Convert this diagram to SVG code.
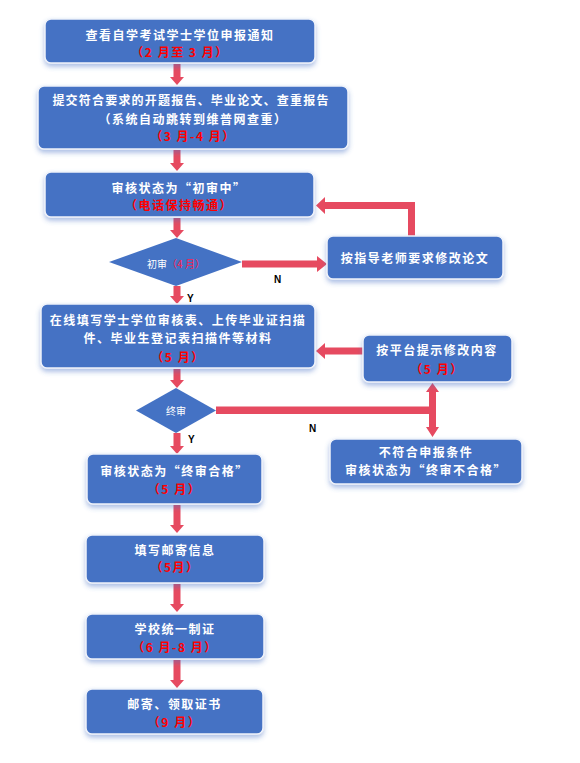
<svg xmlns="http://www.w3.org/2000/svg" width="580" height="763" viewBox="0 0 580 763">
<defs>
<filter id="sh" x="-10%" y="-20%" width="120%" height="150%">
<feDropShadow dx="0" dy="3" stdDeviation="2.5" flood-color="#4472C4" flood-opacity="0.45"/>
</filter>
</defs>
<style>
.box{fill:#4472C4;stroke:#EEF2FA;stroke-width:1.5;filter:url(#sh);}
.dia{fill:#4472C4;stroke:none;}
.t{font-family:"Noto Sans CJK SC","Liberation Sans",sans-serif;font-size:12px;font-weight:bold;fill:#FFFFFF;text-anchor:middle;letter-spacing:1.5px;}
.r{fill:#FF0000;}
.s{font-family:"Noto Sans CJK SC","Liberation Sans",sans-serif;font-size:10px;fill:#FFFFFF;text-anchor:middle;}
.sr{fill:#FF2050;}
.lbl{font-family:"Liberation Sans",Arial,sans-serif;font-size:10px;font-weight:bold;fill:#000000;}
.ar{fill:#E64A60;}
</style>
<rect width="580" height="763" fill="#FFFFFF"/>
<g id="connectors">
<polygon class="ar" points="173.5,64 180.5,64 180.5,77 184,77 177,85 170,77 173.5,77"/>
<polygon class="ar" points="173.5,150 180.5,150 180.5,163 184,163 177,171 170,163 173.5,163"/>
<polygon class="ar" points="173.5,218 180.5,218 180.5,230 184,230 177,238 170,230 173.5,230"/>
<polygon class="ar" points="173.5,286 180.5,286 180.5,296 184,296 177,304 170,296 173.5,296"/>
<polygon class="ar" points="173.5,369 180.5,369 180.5,380 184,380 177,388 170,380 173.5,380"/>
<polygon class="ar" points="173.5,433 180.5,433 180.5,446 184,446 177,454 170,446 173.5,446"/>
<polygon class="ar" points="173.5,505 180.5,505 180.5,525 184,525 177,533 170,525 173.5,525"/>
<polygon class="ar" points="173.5,584 180.5,584 180.5,604 184,604 177,612 170,604 173.5,604"/>
<polygon class="ar" points="173.5,660 180.5,660 180.5,680 184,680 177,688 170,680 173.5,680"/>
<polygon class="ar" points="242,260.5 317,260.5 317,256 327,264 317,272 317,267.5 242,267.5"/>
<polygon class="ar" points="415,236 415,202 325,202 325,197 316,205.5 325,214 325,209 408,209 408,236"/>
<polygon class="ar" points="363,347.5 325,347.5 325,343 316,351 325,359 325,354.5 363,354.5"/>
<rect class="ar" x="216" y="406.5" width="217" height="7.5"/>
<polygon class="ar" points="432.5,383 439,392 436,392 436,427 439,427 432.5,437 426,427 429,427 429,392 426,392"/>
<text class="lbl" x="274" y="283">N</text>
<text class="lbl" x="187" y="302">Y</text>
<text class="lbl" x="309" y="432">N</text>
<text class="lbl" x="188" y="443">Y</text>
</g>
<g id="n1">
<rect class="box" x="45" y="19" width="270" height="44" rx="6"/>
<text class="t" x="180" y="39.5">查看自学考试学士学位申报通知</text>
<text class="t r" x="180" y="56.5">（2 月至 3 月）</text>
</g>
<g id="n2">
<rect class="box" x="38" y="86" width="310" height="63" rx="6"/>
<text class="t" x="191" y="105" style="letter-spacing:1.2px">提交符合要求的开题报告、毕业论文、查重报告</text>
<text class="t" x="193" y="124">（系统自动跳转到维普网查重）</text>
<text class="t r" x="193" y="141">（3 月-4 月）</text>
</g>
<g id="n3">
<rect class="box" x="45" y="172" width="269" height="45" rx="6"/>
<text class="t" x="179" y="192.5">审核状态为“初审中”</text>
<text class="t r" x="179" y="209.5">（电话保持畅通）</text>
</g>
<g id="d1">
<polygon class="dia" points="176,238 242,262 176,286 109,262"/>
<text class="s" x="176" y="267.5">初审<tspan class="sr">（4 月）</tspan></text>
</g>
<g id="n4">
<rect class="box" x="327" y="236" width="176" height="43" rx="6"/>
<text class="t" x="415" y="262.5">按指导老师要求修改论文</text>
</g>
<g id="n5">
<rect class="box" x="41" y="304" width="274" height="64" rx="6"/>
<text class="t" x="178" y="325">在线填写学士学位审核表、上传毕业证扫描</text>
<text class="t" x="178" y="342.5">件、毕业生登记表扫描件等材料</text>
<text class="t r" x="178" y="361.5">（5 月）</text>
</g>
<g id="n6">
<rect class="box" x="363" y="335" width="149" height="47" rx="6"/>
<text class="t" x="437" y="354.5">按平台提示修改内容</text>
<text class="t r" x="437" y="373.5">（5 月）</text>
</g>
<g id="d2">
<polygon class="dia" points="176,388 216,410.5 176,433 136,410.5"/>
<text class="s" x="176" y="414.5">终审</text>
</g>
<g id="n7">
<rect class="box" x="330" y="439" width="192" height="45" rx="6"/>
<text class="t" x="426" y="456.5">不符合申报条件</text>
<text class="t" x="426" y="474.5">审核状态为“终审不合格”</text>
</g>
<g id="n8">
<rect class="box" x="87" y="454" width="175" height="50" rx="6"/>
<text class="t" x="174.5" y="476">审核状态为“终审合格”</text>
<text class="t r" x="174.5" y="494">（5 月）</text>
</g>
<g id="n9">
<rect class="box" x="86" y="535" width="178" height="48" rx="6"/>
<text class="t" x="175" y="554.5">填写邮寄信息</text>
<text class="t r" x="175" y="571.5">（5月）</text>
</g>
<g id="n10">
<rect class="box" x="86" y="614" width="178" height="45" rx="6"/>
<text class="t" x="175" y="633.5">学校统一制证</text>
<text class="t r" x="175" y="651.5">（6 月-8 月）</text>
</g>
<g id="n11">
<rect class="box" x="86" y="689" width="177" height="45" rx="6"/>
<text class="t" x="174.5" y="708.5">邮寄、领取证书</text>
<text class="t r" x="174.5" y="726.5">（9 月）</text>
</g>
</svg>
